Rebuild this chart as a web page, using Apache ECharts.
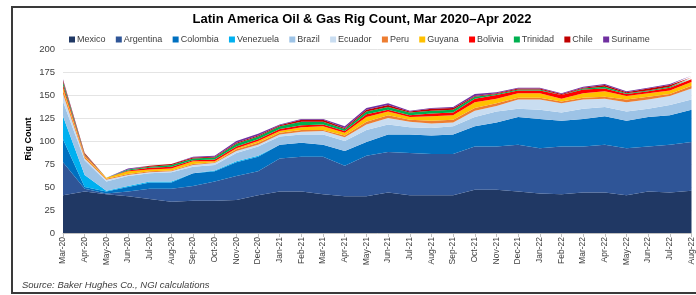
<!DOCTYPE html>
<html><head><meta charset="utf-8">
<script src="https://cdn.jsdelivr.net/npm/echarts@6/dist/echarts.min.js"></script>
<style>html,body{margin:0;padding:0;background:#fff}#c{width:696px;height:295px}</style>
</head><body><div id="c"></div>
<script>
const months = ['Mar-20','Apr-20','May-20','Jun-20','Jul-20','Aug-20','Sep-20','Oct-20','Nov-20','Dec-20','Jan-21','Feb-21','Mar-21','Apr-21','May-21','Jun-21','Jul-21','Aug-21','Sep-21','Oct-21','Nov-21','Dec-21','Jan-22','Feb-22','Mar-22','Apr-22','May-22','Jun-22','Jul-22','Aug-22'];
const yTicks = [0,25,50,75,100,125,150,175,200];
const mexico    = [41,45,42,40,37,34,35,35,36,41,45,45,42,40,40,44,41,41,41,47,47,45,43,42,44,44,41,45,44,46];
const argentina = [36,3,1,5,11,14,16,21,26,26,36,38,41,33,44,44,46,45,45,47,47,51,49,52,50,52,51,49,52,53];
const colombia  = [25,2,2,5,7,7,14,11,15,16,15,15,13,16,15,19,20,20,21,22,26,30,32,28,30,31,30,32,32,35];
const venezuela = [25,13,1,1,1,1,0,1,1,1,0,0,0,0,0,0,0,0,0,0,0,0,0,0,0,0,0,0,0,0];
const brazil    = [16,16,10,11,9,10,7,6,9,10,9,9,11,11,13,11,8,8,9,10,12,9,10,9,11,10,10,9,11,11];
const ecuador   = [8,2,2,1,1,1,2,2,2,2,2,3,4,4,6,7,6,5,4,7,6,10,11,10,10,9,10,10,10,12];
const peru      = [4,2,1,1,1,1,1,1,2,2,2,2,1,2,3,3,2,3,3,3,3,2,2,2,2,2,3,3,2,3];
const guyana    = [3,1,1,3,2,2,3,1,1,2,2,3,4,3,5,4,3,5,5,6,5,5,5,3,5,6,4,4,4,4];
const bolivia   = [3,1,0,1,2,2,1,2,2,2,2,2,2,2,3,2,2,3,3,4,4,3,3,4,4,3,2,2,3,3];
const trinidad  = [3,1,0,1,1,2,2,2,3,3,3,4,3,2,3,3,3,3,3,2,1,1,1,0,1,2,1,1,1,1];
const chile     = [2,1,0,0,1,1,1,1,1,1,1,2,2,1,2,2,1,2,2,1,1,1,1,1,1,2,1,2,2,1];
const suriname  = [1,0,0,1,0,0,1,1,2,2,1,1,1,2,2,2,1,1,1,2,1,1,1,1,1,1,1,1,1,2];

const names = ['Mexico','Argentina','Colombia','Venezuela','Brazil','Ecuador','Peru','Guyana','Bolivia','Trinidad','Chile','Suriname'];
const values = [mexico,argentina,colombia,venezuela,brazil,ecuador,peru,guyana,bolivia,trinidad,chile,suriname];
const colors = ['#203864','#2F5597','#0070C0','#00B0F0','#9DC3E6','#C9DDF1','#ED7D31','#FFC000','#FF0000','#00B050','#C00000','#7030A0'];

const FONT = 'Liberation Sans, Arial, sans-serif';
const chart = echarts.init(document.getElementById('c'), null, {renderer:'canvas'});
chart.setOption({
  animation:false,
  color: colors,
  textStyle:{fontFamily:FONT},
  title:{text:'Latin America Oil & Gas Rig Count, Mar 2020\u2013Apr 2022', left:357, top:8, textAlign:'center',
    textStyle:{fontFamily:FONT, fontSize:13, fontWeight:'bold', color:'#000'}},
  legend:{data:names, left:64, top:30, itemWidth:6, itemHeight:6, itemGap:10.3, icon:'rect',
    textStyle:{fontFamily:FONT, fontSize:9, color:'#404040', padding:[0,0,0,-3]}},
  grid:{left:63, right:4, top:49, bottom:62},
  xAxis:{type:'category', data:months, boundaryGap:false,
    axisLine:{lineStyle:{color:'#BFBFBF'}}, axisTick:{show:true, lineStyle:{color:'#BFBFBF'}, length:4},
    axisLabel:{rotate:90, fontSize:8.5, color:'#404040', margin:4, interval:0, fontFamily:FONT}},
  yAxis:{type:'value', min:yTicks[0], max:yTicks[yTicks.length-1], interval:25,
    axisLabel:{fontSize:9.5, color:'#404040', margin:8, fontFamily:FONT},
    axisLine:{show:false}, axisTick:{show:false},
    splitLine:{lineStyle:{color:'#E4E4E4'}}},
  graphic:[
    {type:'rect', shape:{x:12, y:7, width:700, height:286}, style:{fill:'none', stroke:'#3A3A3A', lineWidth:2}, silent:true},
    {type:'text', x:29, y:139, rotation:Math.PI/2, style:{text:'Rig Count', font:'bold 9px Liberation Sans, Arial, sans-serif', fill:'#000', textAlign:'center', textVerticalAlign:'middle'}},
    {type:'text', left:22, top:280, style:{text:'Source: Baker Hughes Co., NGI calculations', font:'italic 9.5px Liberation Sans, Arial, sans-serif', fill:'#404040'}}
  ],
  series: names.map((n,i)=>({name:n, type:'line', stack:'total', data:values[i], symbol:'none', showSymbol:false,
    lineStyle:{width:0}, areaStyle:{color:colors[i], opacity:1}, itemStyle:{color:colors[i]}}))
});
</script></body></html>
